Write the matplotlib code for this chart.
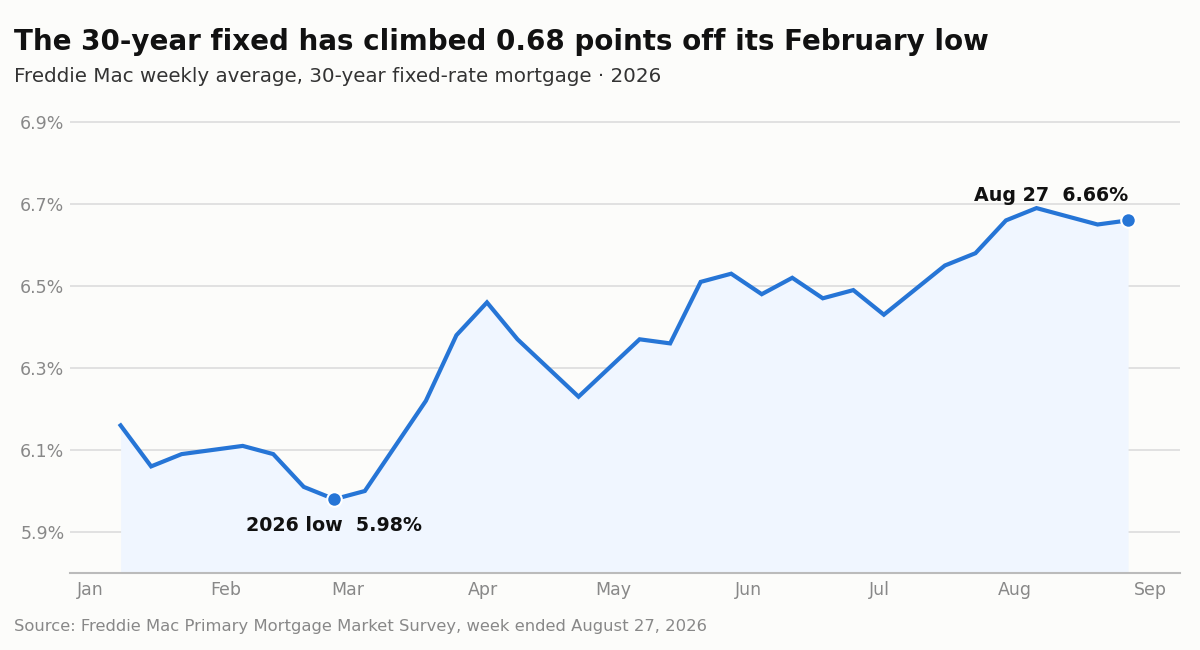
import matplotlib
matplotlib.use("Agg")
import matplotlib.pyplot as plt
import matplotlib.dates as mdates
import pandas as pd

dates = ["2026-01-08", "2026-01-15", "2026-01-22", "2026-01-29", "2026-02-05",
         "2026-02-12", "2026-02-19", "2026-02-26", "2026-03-05", "2026-03-12",
         "2026-03-19", "2026-03-26", "2026-04-02", "2026-04-09", "2026-04-16",
         "2026-04-23", "2026-04-30", "2026-05-07", "2026-05-14", "2026-05-21",
         "2026-05-28", "2026-06-04", "2026-06-11", "2026-06-18", "2026-06-25",
         "2026-07-02", "2026-07-09", "2026-07-16", "2026-07-23", "2026-07-30",
         "2026-08-06", "2026-08-13", "2026-08-20", "2026-08-27"]
rates = [6.16, 6.06, 6.09, 6.10, 6.11, 6.09, 6.01, 5.98, 6.00, 6.11,
         6.22, 6.38, 6.46, 6.37, 6.30, 6.23, 6.30, 6.37, 6.36, 6.51,
         6.53, 6.48, 6.52, 6.47, 6.49, 6.43, 6.49, 6.55, 6.58, 6.66,
         6.69, 6.67, 6.65, 6.66]
y_ticks = [5.9, 6.1, 6.3, 6.5, 6.7, 6.9]
month_ticks = ["2026-01-01", "2026-02-01", "2026-03-01", "2026-04-01", "2026-05-01",
               "2026-06-01", "2026-07-01", "2026-08-01", "2026-09-01"]
month_labels = ["Jan", "Feb", "Mar", "Apr", "May", "Jun", "Jul", "Aug", "Sep"]

title = "The 30-year fixed has climbed 0.68 points off its February low"
subtitle = "Freddie Mac weekly average, 30-year fixed-rate mortgage · 2026"
source = "Source: Freddie Mac Primary Mortgage Market Survey, week ended August 27, 2026"
low_label = "2026 low  5.98%"
last_label = "Aug 27  6.66%"

plt.rcParams['font.family'] = ['DejaVu Sans']

BG = "#fcfcfa"
LINE = "#2675d6"
FILL = "#f0f6ff"

x = pd.to_datetime(dates)
fig = plt.figure(figsize=(12, 6.5), dpi=100, facecolor=BG)
W, H = 1200, 650
ax_left, ax_right, ax_bottom = 70, 1180, 573
ymin, ymax = 5.8, 6.95
ax_top = ax_bottom - (ymax - ymin) * 410
ax = fig.add_axes([ax_left / W, 1 - ax_bottom / H, (ax_right - ax_left) / W, (ax_bottom - ax_top) / H])
ax.set_facecolor(BG)

ax.fill_between(x, rates, ymin, color=FILL, zorder=1, linewidth=0)
ax.plot(x, rates, color=LINE, lw=3, zorder=3, solid_joinstyle="miter")

i_low = rates.index(min(rates))
ax.scatter([x[i_low], x[-1]], [rates[i_low], rates[-1]], s=110, color=LINE,
           edgecolor="white", linewidth=1.5, zorder=4)
ax.annotate(low_label, (x[i_low], rates[i_low]), xytext=(0, -19), textcoords="offset points",
            ha="center", va="center", fontsize=13.7, fontweight="bold", color="#111111")
ax.annotate(last_label, (x[-1], rates[-1]), xytext=(0, 18), textcoords="offset points",
            ha="right", va="center", fontsize=13.7, fontweight="bold", color="#111111")

ax.set_ylim(ymin, ymax)
ax.set_xlim(pd.Timestamp("2026-01-01") - pd.Timedelta(days=4.6),
            pd.Timestamp("2026-01-01") + pd.Timedelta(days=249.9))
ax.set_yticks(y_ticks)
ax.set_yticklabels([f"{v:.1f}%" for v in y_ticks])
ax.set_xticks(pd.to_datetime(month_ticks))
ax.set_xticklabels(month_labels)
ax.grid(axis="y", color="#dcdcdc", lw=1.2, zorder=0)
ax.set_axisbelow(True)
ax.tick_params(axis="both", length=0, labelsize=12.5, colors="#888888")
ax.tick_params(axis="y", pad=4)
ax.tick_params(axis="x", pad=6)
for s in ["top", "right", "left"]:
    ax.spines[s].set_visible(False)
ax.spines["bottom"].set_color("#bbbbbb")
ax.spines["bottom"].set_linewidth(1.5)

fig.text(14 / W, 1 - 42 / H, title, fontsize=20, fontweight="bold", color="#111111", va="center", ha="left")
fig.text(14 / W, 1 - 77 / H, subtitle, fontsize=14.35, color="#333333", va="center", ha="left")
fig.text(14 / W, 1 - 627 / H, source, fontsize=11.8, color="#888888", va="center", ha="left")

fig.savefig("out.png", dpi=100, facecolor=BG)
